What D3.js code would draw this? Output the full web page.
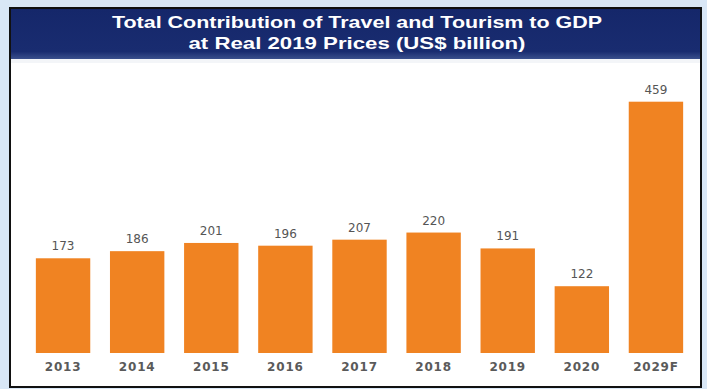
<!DOCTYPE html>
<html>
<head>
<meta charset="utf-8">
<script src="https://cdn.jsdelivr.net/npm/d3@7"></script>
<style>
  html, body { margin: 0; padding: 0; background: #d9e7f6; }
  svg { display: block; }
</style>
</head>
<body>
<script>
// Total contribution of travel and tourism to GDP, US$ billion
const years = ["2013", "2014", "2015", "2016", "2017", "2018", "2019", "2020", "2029F"];
const values = [173, 186, 201, 196, 207, 220, 191, 122, 459];
const titleLines = ["Total Contribution of Travel and Tourism to GDP", "at Real 2019 Prices (US$ billion)"];
const titleWidths = [490, 337];

const W = 707, H = 389;
const svg = d3.select("body").append("svg").attr("width", W).attr("height", H);

const defs = svg.append("defs");
const grad = defs.append("linearGradient").attr("id", "hdr").attr("x1", 0).attr("y1", 0).attr("x2", 0).attr("y2", 1);
grad.append("stop").attr("offset", "0%").attr("stop-color", "#15276a");
grad.append("stop").attr("offset", "85%").attr("stop-color", "#192c70");
grad.append("stop").attr("offset", "100%").attr("stop-color", "#3a4f8c");

// panel frame
svg.append("rect").attr("x", 10).attr("y", 8).attr("width", 691).attr("height", 379)
  .attr("fill", "#ffffff").attr("stroke", "#111111").attr("stroke-width", 2);

// header band
svg.append("rect").attr("x", 11).attr("y", 9).attr("width", 689).attr("height", 50)
  .attr("fill", "url(#hdr)");
svg.append("rect").attr("x", 11).attr("y", 59).attr("width", 689).attr("height", 4)
  .attr("fill", "#f3f5f8");

svg.selectAll("text.title").data(titleLines).join("text")
  .attr("class", "title")
  .attr("x", 357).attr("y", (d, i) => 28 + i * 21)
  .attr("text-anchor", "middle")
  .attr("fill", "#ffffff")
  .attr("font-family", "Liberation Sans, Arial, sans-serif")
  .attr("font-weight", "bold")
  .attr("font-size", 16.5)
  .attr("textLength", (d, i) => titleWidths[i])
  .attr("lengthAdjust", "spacingAndGlyphs")
  .text(d => d);

const x = d3.scaleBand().domain(years).range([26, 693]).paddingInner(0.266).paddingOuter(0.133);
const y = d3.scaleLinear().domain([0, 459]).range([353, 101.7]);

const g = svg.append("g");
g.selectAll("rect.bar").data(values).join("rect")
  .attr("class", "bar")
  .attr("x", (d, i) => x(years[i]))
  .attr("width", x.bandwidth())
  .attr("y", d => y(d))
  .attr("height", d => y(0) - y(d))
  .attr("fill", "#f08322");

g.selectAll("text.val").data(values).join("text")
  .attr("class", "val")
  .attr("x", (d, i) => x(years[i]) + x.bandwidth() / 2)
  .attr("y", d => y(d) - 8)
  .attr("text-anchor", "middle")
  .attr("fill", "#555555")
  .attr("font-family", "DejaVu Sans, Verdana, sans-serif")
  .attr("font-size", 12)
  .text(d => d);

// category axis
const axis = svg.append("g").attr("transform", `translate(0,${y(0)})`)
  .call(d3.axisBottom(x).tickSize(0).tickPadding(9));
axis.select(".domain").remove();
axis.selectAll("text")
  .attr("fill", "#5a5a5a")
  .attr("font-family", "DejaVu Sans, Verdana, sans-serif")
  .attr("font-weight", "bold")
  .attr("font-size", 12)
  .attr("letter-spacing", 0.8);
</script>
</body>
</html>
